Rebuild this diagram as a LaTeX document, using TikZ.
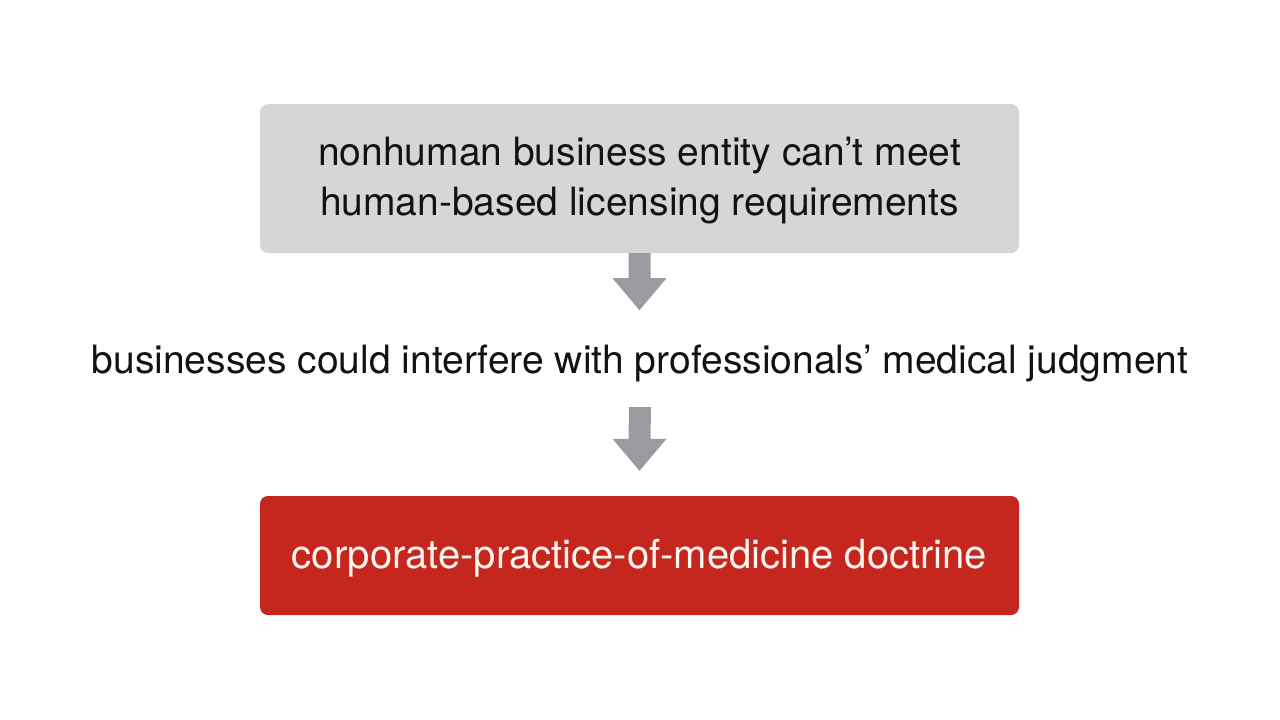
\documentclass[tikz,border=0pt]{standalone}
\usepackage{fontspec}
\setmainfont{TeX Gyre Heros}
\usetikzlibrary{calc}
\definecolor{boxgray}{RGB}{214,214,214}
\definecolor{arrowgray}{RGB}{154,154,160}
\definecolor{doctrinered}{RGB}{197,39,30}
\definecolor{offwhite}{RGB}{255,246,240}
\tikzset{
	step box/.style={rectangle, rounded corners=8pt, minimum width=759pt, minimum height=#1, inner sep=0pt, align=center},
	step text/.style={font=\fontsize{39}{50}\selectfont, text=black!93}
}
\begin{document}
\begin{tikzpicture}[x=1pt, y=-1pt]
	% canvas
	\useasboundingbox (0,0) rectangle (1280,720);
	\fill[white] (0,0) rectangle (1280,720);
	% boxes and text
	\node[step box=149pt, step text, fill=boxgray] at (639.5,178.5) (cause) {\raisebox{-2pt}[\height][\depth]{\parbox{700pt}{\centering nonhuman business entity can't meet\\human-based licensing requirements}}};
	\node[step text] at (640,363) (risk) {businesses could interfere with professionals' medical judgment};
	\node[step box=119pt, step text, font=\fontsize{40}{50}\selectfont, fill=doctrinered, text=offwhite] at (639.5,555.5) (doctrine) {\raisebox{-3pt}[\height][\depth]{corporate-practice-of-medicine doctrine}};
	% block arrows
	\coordinate (tipa) at ($(cause.south)+(0,57)$);
	\fill[arrowgray] (cause.south) ++(-11,0) -- ++(22,0) -- ($(tipa)+(11,-32)$) -- ++(16,0) -- (tipa) -- ($(tipa)+(-27,-32)$) -- ++(16,0) -- cycle;
	\coordinate (tipb) at ($(doctrine.north)+(0,-25)$);
	\fill[arrowgray] ($(risk.south)+(-11,22)$) -- ++(22,0) -- ($(tipb)+(11,-32)$) -- ++(16,0) -- (tipb) -- ($(tipb)+(-27,-32)$) -- ++(16,0) -- cycle;
\end{tikzpicture}
\end{document}
